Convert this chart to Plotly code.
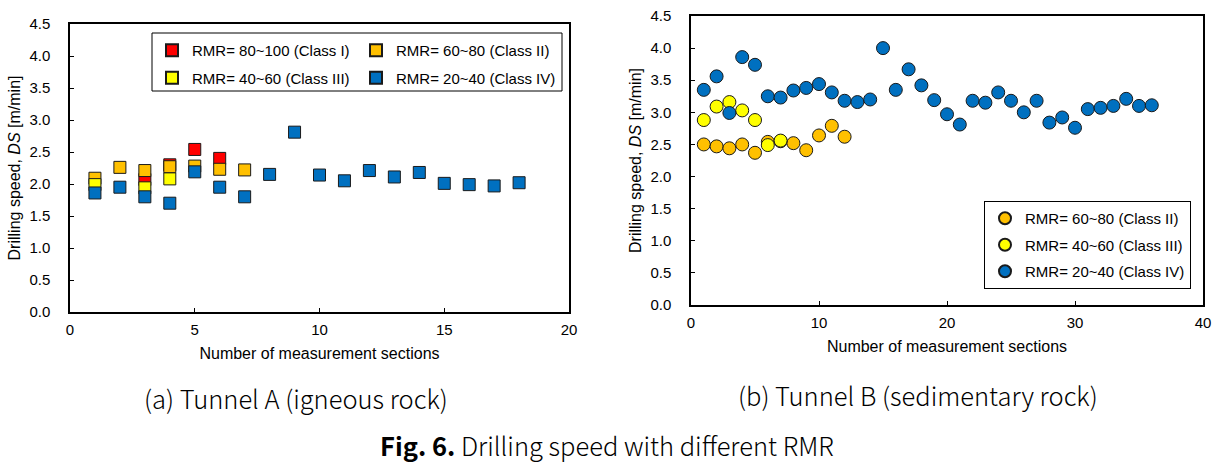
import plotly.graph_objects as go

# ---------------- Data: Tunnel A (igneous rock) ----------------
a_c1_x = [3, 4, 5, 6]
a_c1_y = [2.07, 2.30, 2.54, 2.40]
a_c2_x = [1, 2, 3, 4, 5, 6, 7]
a_c2_y = [2.09, 2.26, 2.21, 2.27, 2.28, 2.23, 2.22]
a_c3_x = [1, 3, 4]
a_c3_y = [1.99, 1.94, 2.08]
a_c4_x = list(range(1, 19))
a_c4_y = [1.86, 1.95, 1.80, 1.70, 2.19, 1.95, 1.80, 2.15, 2.81,
          2.14, 2.05, 2.21, 2.11, 2.18, 2.01, 1.99, 1.97, 2.02]

# ---------------- Data: Tunnel B (sedimentary rock) ----------------
b_c2_x = list(range(1, 13))
b_c2_y = [2.50, 2.47, 2.44, 2.50, 2.37, 2.54, 2.55, 2.52, 2.41, 2.64, 2.79, 2.62]
b_c3_x = [1, 2, 3, 4, 5, 6, 7]
b_c3_y = [2.88, 3.09, 3.16, 3.03, 2.88, 2.49, 2.56]
b_c4_x = list(range(1, 37))
b_c4_y = [3.35, 3.56, 2.99, 3.86, 3.74, 3.25, 3.23, 3.34, 3.38, 3.44,
          3.31, 3.18, 3.16, 3.20, 4.00, 3.35, 3.67, 3.42, 3.19, 2.97,
          2.81, 3.18, 3.15, 3.31, 3.18, 3.00, 3.18, 2.84, 2.92, 2.76,
          3.05, 3.07, 3.10, 3.21, 3.10, 3.11]

labels = ["RMR= 80~100 (Class I)", "RMR= 60~80 (Class II)",
          "RMR= 40~60 (Class III)", "RMR= 20~40 (Class IV)"]
colors = ["#FF0000", "#FFC000", "#FFFF00", "#0070C0"]

W, H = 1231, 464
FONT = "Liberation Sans, Arial, sans-serif"

fig = go.Figure()

def px_x(p):
    return p / W

def px_y(p):
    return 1 - p / H

# Tunnel A traces: red/yellow in legend (col 1), orange/blue in legend2 (col 2)
a_sets = [(a_c1_x, a_c1_y, 0, "legend"), (a_c2_x, a_c2_y, 1, "legend2"),
          (a_c3_x, a_c3_y, 2, "legend"), (a_c4_x, a_c4_y, 3, "legend2")]
for xs, ys, i, lg in a_sets:
    fig.add_trace(go.Scatter(
        x=xs, y=ys, mode="markers", name=labels[i], legend=lg,
        legendgroup="a%d" % i,
        marker=dict(symbol="square", size=12, color=colors[i],
                    line=dict(color="#1a1a1a", width=1)),
        xaxis="x", yaxis="y"))

b_sets = [(b_c2_x, b_c2_y, 1), (b_c3_x, b_c3_y, 2), (b_c4_x, b_c4_y, 3)]
for xs, ys, i in b_sets:
    fig.add_trace(go.Scatter(
        x=xs, y=ys, mode="markers", name=labels[i], legend="legend3",
        legendgroup="b%d" % i,
        marker=dict(symbol="circle", size=13, color=colors[i],
                    line=dict(color="#1a1a1a", width=1)),
        xaxis="x2", yaxis="y2"))

axis_common = dict(showline=True, mirror=True, linecolor="black", linewidth=1.5,
                   ticks="inside", ticklen=4, tickcolor="black", tickwidth=1,
                   showgrid=False, zeroline=False, automargin=False,
                   tickfont=dict(family=FONT, size=15, color="black"))

ytitle = dict(text="Drilling speed, <i>DS</i> [m/min]",
              font=dict(family=FONT, size=16, color="black"), standoff=5)
xtitle = dict(text="Number of measurement sections",
              font=dict(family=FONT, size=16, color="black"), standoff=11)

legend_font = dict(family=FONT, size=15, color="black")

fig.update_layout(
    width=W, height=H,
    margin=dict(l=0, r=0, t=0, b=0, autoexpand=False),
    paper_bgcolor="white", plot_bgcolor="white",
    xaxis=dict(domain=[px_x(70), px_x(569)], range=[0, 20], tickvals=[0, 5, 10, 15, 20],
               title=xtitle, anchor="y", ticklabelstandoff=3, **axis_common),
    yaxis=dict(domain=[px_y(312), px_y(24)], range=[0, 4.5], dtick=0.5, tickformat=".1f",
               title=ytitle, anchor="x", ticklabelstandoff=15, **axis_common),
    xaxis2=dict(domain=[px_x(691), px_x(1203)], range=[0, 40], tickvals=[0, 10, 20, 30, 40],
                title=xtitle, anchor="y2", ticklabelstandoff=3, **axis_common),
    yaxis2=dict(domain=[px_y(305), px_y(16)], range=[0, 4.5], dtick=0.5, tickformat=".1f",
                title=ytitle, anchor="x2", ticklabelstandoff=15, **axis_common),
    legend=dict(x=px_x(152), y=px_y(34), xanchor="left", yanchor="top",
                bgcolor="rgba(0,0,0,0)", borderwidth=0, font=legend_font,
                tracegroupgap=5, itemsizing="constant"),
    legend2=dict(x=px_x(356), y=px_y(34), xanchor="left", yanchor="top",
                 bgcolor="rgba(0,0,0,0)", borderwidth=0, font=legend_font,
                 tracegroupgap=5, itemsizing="constant"),
    legend3=dict(x=px_x(984), y=px_y(201), xanchor="left", yanchor="top",
                 bgcolor="white", bordercolor="black", borderwidth=1, font=legend_font,
                 tracegroupgap=4, itemsizing="constant"),
    showlegend=True,
)

# box around the two-column legend of Tunnel A
fig.add_shape(type="rect", xref="paper", yref="paper",
              x0=px_x(152), x1=px_x(562), y0=px_y(91), y1=px_y(33),
              line=dict(color="black", width=1), fillcolor="rgba(0,0,0,0)")

cap_font = dict(family="Noto Sans CJK KR, Noto Sans, sans-serif", size=25.5,
                color="black", weight=300)
fig.add_annotation(x=px_x(296), y=px_y(397), xref="paper", yref="paper",
                   text="(a) Tunnel A (igneous rock)", showarrow=False,
                   xanchor="center", yanchor="middle", font=cap_font)
fig.add_annotation(x=px_x(918), y=px_y(394), xref="paper", yref="paper",
                   text="(b) Tunnel B (sedimentary rock)", showarrow=False,
                   xanchor="center", yanchor="middle", font=cap_font)
fig.add_annotation(x=px_x(607), y=px_y(444), xref="paper", yref="paper",
                   text="<b>Fig. 6.</b> Drilling speed with different RMR", showarrow=False,
                   xanchor="center", yanchor="middle", font=cap_font)

fig.write_html("out.html", config={"displayModeBar": False},
               post_script="document.body.style.margin='0px';")
